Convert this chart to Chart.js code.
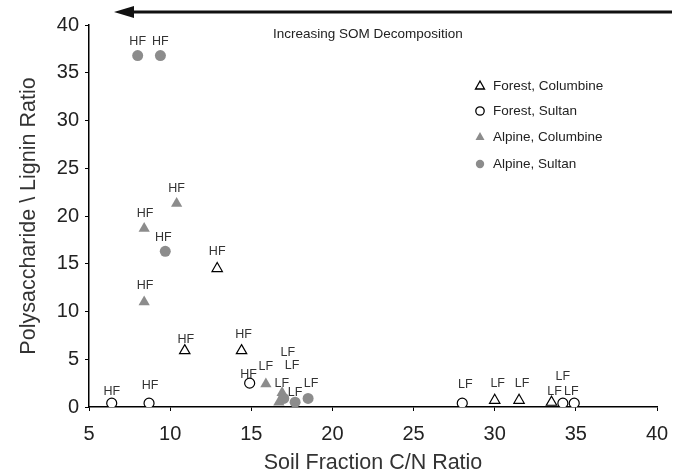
<!DOCTYPE html>
<html>
<head>
<meta charset="utf-8">
<script src="https://cdn.jsdelivr.net/npm/chart.js@4.4.1/dist/chart.umd.min.js"></script>
<style>
  html, body { margin: 0; padding: 0; background: #fff; }
</style>
</head>
<body>
<canvas id="c" width="685" height="476"></canvas>
<script>
// Forest, Columbine (open triangles)
const fcX = [12.9, 10.9, 14.4, 30.0, 31.5, 33.5];
const fcY = [14.5, 5.9, 5.9, 0.7, 0.7, 0.5];
const fcLab = ['HF', 'HF', 'HF', 'LF', 'LF', 'LF'];

// Forest, Sultan (open circles)
const fsX = [6.4, 8.7, 14.9, 28.0, 34.2, 34.9];
const fsY = [0.4, 0.4, 2.5, 0.4, 0.4, 0.4];
const fsLab = ['HF', 'HF', 'HF', 'LF', 'LF', 'LF'];

// Alpine, Columbine (grey triangles)
const acX = [8.4, 10.4, 8.4, 15.9, 16.9, 16.7];
const acY = [18.7, 21.3, 11.0, 2.4, 1.5, 0.5];
const acLab = ['HF', 'HF', 'HF', 'LF', 'LF', 'LF'];

// Alpine, Sultan (grey circles)
const asX = [8.0, 9.4, 9.7, 17.0, 17.7, 18.5];
const asY = [36.8, 36.8, 16.3, 0.9, 0.5, 0.9];
const asLab = ['HF', 'HF', 'HF', 'LF', 'LF', 'LF'];

const seriesNames = ['Forest, Columbine', 'Forest, Sultan', 'Alpine, Columbine', 'Alpine, Sultan'];
const xTicks = [5, 10, 15, 20, 25, 30, 35, 40];
const yTicks = [0, 5, 10, 15, 20, 25, 30, 35, 40];

// label nudges in px (dx, dy) so crowded labels sit where the original put them
const labelNudge = [
    [[0, -17], [1, -11], [2, -16], [3, -17], [3, -17], [3, -11]],
    [[0, -12], [1, -18], [-1, -9], [3, -19], [0, -27], [-3, -12]],
    [[1, -15], [0, -15], [1, -16], [0, -18], [10, -27], [3, -19]],
    [[0, -14], [0, -14], [-2, -14], [4, -46], [0, -10], [3, -15]]
];

const grey = '#8c8c8c';
const FONT = '"Liberation Sans", Arial, sans-serif';
const pts = (xs, ys) => xs.map((x, i) => ({ x: x, y: ys[i] }));

const pointLabels = {
    id: 'pointLabels',
    afterDatasetsDraw(chart) {
        const ctx = chart.ctx;
        const labs = [fcLab, fsLab, acLab, asLab];
        ctx.save();
        ctx.font = '12.5px ' + FONT;
        ctx.fillStyle = '#333';
        ctx.textAlign = 'center';
        ctx.textBaseline = 'middle';
        chart.data.datasets.forEach((ds, d) => {
            chart.getDatasetMeta(d).data.forEach((el, i) => {
                const n = labelNudge[d][i];
                ctx.fillText(labs[d][i], el.x + n[0], el.y + n[1]);
            });
        });
        ctx.restore();
    }
};

const extras = {
    id: 'extras',
    afterDraw(chart) {
        const ctx = chart.ctx;
        ctx.save();
        // decomposition arrow
        ctx.strokeStyle = '#111';
        ctx.fillStyle = '#111';
        ctx.lineWidth = 3;
        ctx.beginPath();
        ctx.moveTo(130, 12);
        ctx.lineTo(672, 12);
        ctx.stroke();
        ctx.beginPath();
        ctx.moveTo(114, 12);
        ctx.lineTo(134, 6);
        ctx.lineTo(134, 18);
        ctx.closePath();
        ctx.fill();
        ctx.font = '13.5px ' + FONT;
        ctx.fillStyle = '#222';
        ctx.textBaseline = 'middle';
        ctx.fillText('Increasing SOM Decomposition', 273, 34);

        // legend
        const rows = [86, 111, 137, 164];
        ctx.font = '13.5px ' + FONT;
        chart.data.datasets.forEach((ds, d) => {
            const y = rows[d];
            const x = 480;
            ctx.beginPath();
            if (ds.pointStyle === 'triangle') {
                ctx.moveTo(x, y - 5);
                ctx.lineTo(x + 4.5, y + 3);
                ctx.lineTo(x - 4.5, y + 3);
                ctx.closePath();
            } else {
                ctx.arc(x, y, 4.2, 0, Math.PI * 2);
            }
            ctx.fillStyle = ds.pointBackgroundColor;
            ctx.fill();
            if (ds.pointBorderWidth > 0) {
                ctx.lineWidth = 1.3;
                ctx.strokeStyle = ds.pointBorderColor;
                ctx.stroke();
            }
            ctx.fillStyle = '#222';
            ctx.fillText(seriesNames[d], 493, y);
        });
        ctx.restore();
    }
};

new Chart(document.getElementById('c').getContext('2d'), {
    type: 'scatter',
    data: {
        datasets: [
            {
                label: seriesNames[0], data: pts(fcX, fcY), pointStyle: 'triangle',
                pointRadius: 6, pointBackgroundColor: '#fff', pointBorderColor: '#000', pointBorderWidth: 1.2
            },
            {
                label: seriesNames[1], data: pts(fsX, fsY), pointStyle: 'circle',
                pointRadius: 5, pointBackgroundColor: '#fff', pointBorderColor: '#000', pointBorderWidth: 1.2
            },
            {
                label: seriesNames[2], data: pts(acX, acY), pointStyle: 'triangle',
                pointRadius: 6.5, pointBackgroundColor: grey, pointBorderColor: grey, pointBorderWidth: 0
            },
            {
                label: seriesNames[3], data: pts(asX, asY), pointStyle: 'circle',
                pointRadius: 5.5, pointBackgroundColor: grey, pointBorderColor: grey, pointBorderWidth: 0
            }
        ]
    },
    options: {
        responsive: false,
        animation: false,
        layout: { padding: { left: 0, right: 28, top: 25, bottom: 0 } },
        plugins: { legend: { display: false }, tooltip: { enabled: false } },
        scales: {
            x: {
                type: 'linear', min: 5, max: 40,
                afterBuildTicks: s => { s.ticks = xTicks.map(v => ({ value: v })); },
                afterFit: s => { s.height = 69; },
                border: { display: true, color: '#000', width: 1.5 },
                grid: { drawOnChartArea: false, drawTicks: true, tickLength: 4, color: '#000' },
                ticks: { color: '#222', padding: 11, font: { size: 20, family: FONT } },
                title: { display: true, text: 'Soil Fraction C/N Ratio', color: '#333', padding: { top: 2, bottom: 0 },
                         font: { size: 21.5, family: FONT } }
            },
            y: {
                type: 'linear', min: 0, max: 40,
                afterBuildTicks: s => { s.ticks = yTicks.map(v => ({ value: v })); },
                afterFit: s => { s.width = 89; },
                border: { display: true, color: '#000', width: 1.5 },
                grid: { drawOnChartArea: false, drawTicks: true, tickLength: 4, color: '#000' },
                ticks: { color: '#222', padding: 6, font: { size: 20, family: FONT } },
                title: { display: true, text: 'Polysaccharide \\ Lignin Ratio', color: '#333', padding: { top: 16, bottom: 0 },
                         font: { size: 21.5, family: FONT } }
            }
        }
    },
    plugins: [pointLabels, extras]
});
</script>
</body>
</html>
